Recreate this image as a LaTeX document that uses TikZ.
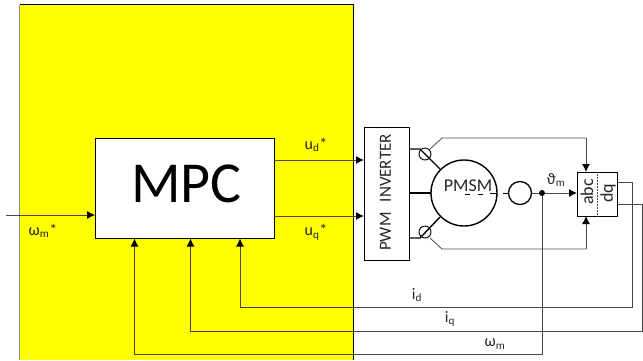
\documentclass[tikz,border=0pt]{standalone}
\usepackage{fontspec}
\setmainfont{Carlito}
\usetikzlibrary{arrows.meta,calc}
\definecolor{panel}{RGB}{255,255,0}
\definecolor{ink}{RGB}{0,0,0}
\tikzset{
  wire/.style={line width=1pt,draw=ink!72},
  thinwire/.style={line width=0.8pt,draw=ink!70},
  heavy/.style={line width=1.4pt,draw=ink},
  flow/.style={wire,-{Latex[length=8pt,width=8pt,color=ink]}},
  lbl/.style={inner sep=0pt,font=\fontsize{16}{18}\selectfont,text=ink!85},
  rotlbl/.style={inner sep=0pt,rotate=90,font=\fontsize{18}{20}\selectfont,text=ink!85},
  blockbox/.style={draw=ink,fill=white,inner sep=0pt,line width=1.1pt,anchor=north west},
  sensor/.style={circle,draw=ink,line width=0.9pt,minimum size=12pt,inner sep=0pt},
  dot/.style={circle,fill=ink,minimum size=6pt,inner sep=0pt}
}
\begin{document}
\begin{tikzpicture}[x=1pt,y=-1pt]
\useasboundingbox (0,0) rectangle (643,360);
% yellow panel
\fill[panel] (19.5,4.5) rectangle (353,360);
\draw[ink!45,line width=0.6pt] (19.5,360) -- (19.5,4.5);
\draw[ink,line width=0.7pt] (19.5,4.5) -- (353,4.5) -- (353,360);

% blocks
\node[blockbox,minimum width=179pt,minimum height=100pt] (mpc) at (95,138) {};
\node[font=\fontsize{58}{60}\selectfont,inner sep=0pt] (mpct) at (186.5,184) {MPC};
\node[blockbox,heavy,minimum width=45pt,minimum height=133pt] (inv) at (364,127) {};
\node[rotlbl,font=\fontsize{17}{19}\selectfont] (invt) at (385.5,192.5) {PWM\hspace{0.6em}INVERTER};
\node[circle,draw=ink,line width=1.4pt,minimum size=66pt,inner sep=0pt] (pmsm) at (464,193) {};
\node[lbl,font=\fontsize{18}{20}\selectfont] (pmsmt) at (468,186) {PMSM};
\node[circle,draw=ink,line width=1.3pt,minimum size=23pt,inner sep=0pt] (enc) at (520,193) {};
\node[dot] (tap) at (542,193) {};
\node[blockbox,minimum width=40pt,minimum height=44pt,line width=1pt] (conv) at (577,172) {};
\node[rotlbl] (abc) at (587,192) {abc};
\node[rotlbl] (dq) at (608,193) {dq};
\draw[ink!70,densely dotted,line width=0.5pt] (conv.north) -- (conv.south);

% named free ends and bends
\coordinate (wIn) at (6,215);
\coordinate (mpcIn) at (95,215);
\coordinate (ud0) at (274,160);
\coordinate (ud1) at (364,160);
\coordinate (uq0) at (274,216);
\coordinate (uq1) at (364,216);
\coordinate (phA) at (409,149);
\coordinate (phA1) at (420,149);
\coordinate (phAm) at (440,169);
\coordinate (phB) at (409,193);
\coordinate (phBm) at (431,193);
\coordinate (phC) at (409,238);
\coordinate (phC1) at (420,238);
\coordinate (phCm) at (440,217);
\coordinate (senA) at (430,149);
\coordinate (senA1) at (442,138);
\coordinate (senA2) at (586,138);
\coordinate (senAe) at (586,172);
\coordinate (senC) at (430,238);
\coordinate (senC1) at (442,249);
\coordinate (senC2) at (586,249);
\coordinate (senCe) at (586,216);
\coordinate (dqU) at (617,182);
\coordinate (dqU1) at (632,182);
\coordinate (dqU2) at (632,307);
\coordinate (dqL) at (617,204);
\coordinate (dqL1) at (642,204);
\coordinate (dqL2) at (642,331);
\coordinate (idE) at (240,238.5);
\coordinate (idB) at (240,307);
\coordinate (iqE) at (190.5,238.5);
\coordinate (iqB) at (190.5,331);
\coordinate (wE) at (134.5,238.5);
\coordinate (wB) at (134.5,354);
\coordinate (wT) at (542,354);

% main signal flows
\draw[flow] (wIn) -- (mpcIn);
\draw[flow] (ud0) -- (ud1);
\draw[flow] (uq0) -- (uq1);
\draw[flow] (tap) -- (conv.west |- tap);
\draw[wire] (enc) ++(11.5,0) -- (tap);

% phases
\draw[heavy] (phA) -- (phA1) -- (phAm);
\draw[heavy] (phB) -- (phBm);
\draw[heavy] (phC) -- (phC1) -- (phCm);
\node[sensor] (sa) at (425,154) {};
\node[sensor] (sc) at (425,232) {};

% shaft
\draw[ink,line width=0.9pt] (465,194) -- (470,194) (478,194) -- (483,194) (490,193) -- (497,193);
\draw[ink,line width=0.9pt] (503,193) -- (508.5,193);

% current sensing
\draw[thinwire] (senA) -- (senA1) -- (senA2);
\draw[flow] (senA2) -- (senAe);
\draw[thinwire] (senC) -- (senC1) -- (senC2);
\draw[flow] (senC2) -- (senCe);

% feedback
\draw[flow] (dqU) -- (dqU1) -- (dqU2) -- (idB) -- (idE);
\draw[flow] (dqL) -- (dqL1) -- (dqL2) -- (iqB) -- (iqE);
\draw[flow] (tap) -- (wT) -- (wB) -- (wE);

% labels
\node[lbl] (lwr) at (43,231) {ω\textsubscript{m}*};
\node[lbl] (lud) at (316,145) {u\textsubscript{d}*};
\node[lbl] (luq) at (316,232) {u\textsubscript{q}*};
\node[lbl] (lth) at (556,180) {ϑ\textsubscript{m}};
\node[lbl] (lid) at (417,295) {i\textsubscript{d}};
\node[lbl] (liq) at (450,319) {i\textsubscript{q}};
\node[lbl] (lwm) at (495,344) {ω\textsubscript{m}};
\end{tikzpicture}
\end{document}
